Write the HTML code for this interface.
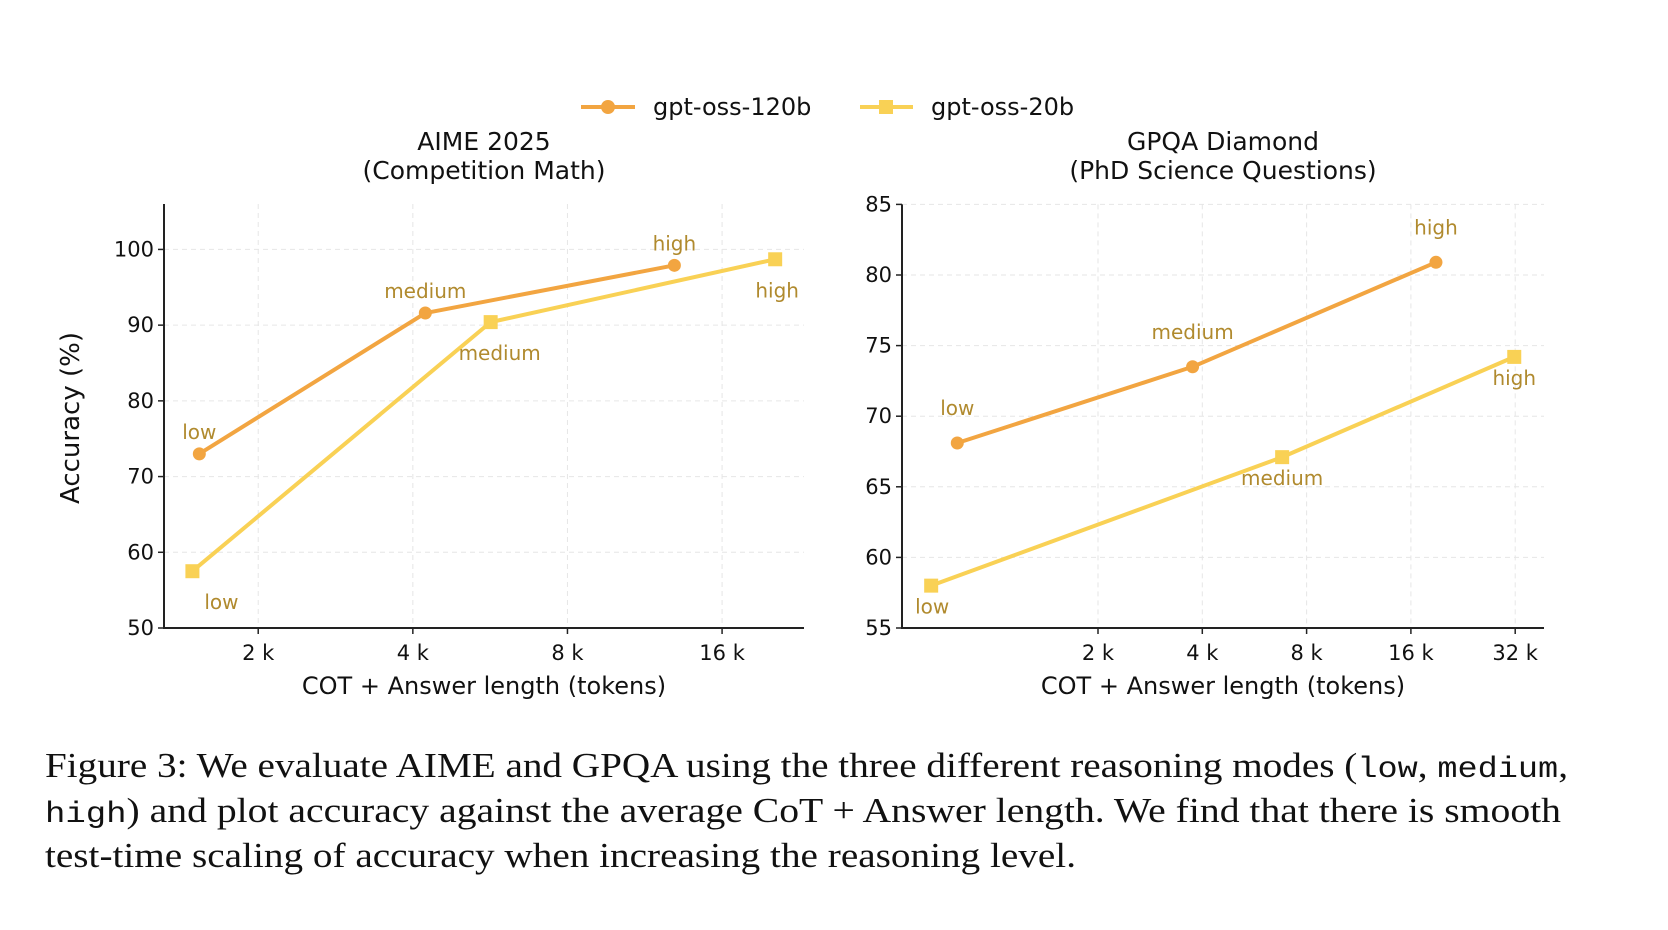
<!DOCTYPE html>
<html><head><meta charset="utf-8">
<style>
html,body{margin:0;padding:0;background:#fff;}
svg{display:block;}
text{font-family:"DejaVu Sans","Liberation Sans",sans-serif;}
.cap{font-family:"Liberation Serif",serif;font-size:35px;fill:#111;}
.mono{font-family:"Liberation Mono",monospace;font-size:30px;}
</style></head>
<body>
<svg id="fig" width="1668" height="930" viewBox="0 0 1668 930" xmlns="http://www.w3.org/2000/svg">
<g id="legend">
  <g>
    <line x1="581" y1="107" x2="635" y2="107" stroke="#F2A541" stroke-width="4"/>
    <circle cx="608" cy="107" r="7" fill="#F2A541"/>
    <text x="653" y="115" font-size="24" fill="#111">gpt-oss-120b</text>
  </g>
  <g>
    <line x1="860" y1="107" x2="913" y2="107" stroke="#F9D155" stroke-width="4"/>
    <rect x="879" y="100" width="14" height="14" fill="#F9D155"/>
    <text x="931" y="115" font-size="24" fill="#111">gpt-oss-20b</text>
  </g>
</g>
<g id="left"></g>
<g id="right"></g>
<g>
  <text class="cap" x="45" y="777" textLength="1523" lengthAdjust="spacingAndGlyphs">Figure 3: We evaluate AIME and GPQA using the three different reasoning modes (<tspan class="mono">low</tspan>, <tspan class="mono">medium</tspan>,</text>
  <text class="cap" x="45" y="822" textLength="1516" lengthAdjust="spacingAndGlyphs"><tspan class="mono">high</tspan>) and plot accuracy against the average CoT + Answer length. We find that there is smooth</text>
  <text class="cap" x="45" y="867" textLength="1031" lengthAdjust="spacingAndGlyphs">test-time scaling of accuracy when increasing the reasoning level.</text>
</g>
</svg>
<script>
// ---- AIME data ----
const aimeLevels = ["low","medium","high"];
const aime120bTokens = [1536, 4230, 12920];
const aime120bAcc = [73.0, 91.6, 97.9];
const aime20bTokens = [1489, 5670, 20300];
const aime20bAcc = [57.5, 90.4, 98.7];
const aimeYTicks = [50,60,70,80,90,100];
const aimeXTicks = [2000,4000,8000,16000];
const aimeXTickLabels = ["2 k","4 k","8 k","16 k"];
// ---- GPQA data ----
const gpqaLevels = ["low","medium","high"];
const gpqa120bTokens = [785, 3750, 18900];
const gpqa120bAcc = [68.1, 73.5, 80.9];
const gpqa20bTokens = [660, 6800, 31800];
const gpqa20bAcc = [58.0, 67.1, 74.2];
const gpqaYTicks = [55,60,65,70,75,80,85];
const gpqaXTicks = [2000,4000,8000,16000,32000];
const gpqaXTickLabels = ["2 k","4 k","8 k","16 k","32 k"];

const NS="http://www.w3.org/2000/svg";
function mk(tag, attrs, parent){const e=document.createElementNS(NS,tag);for(const k in attrs)e.setAttribute(k,attrs[k]);parent.appendChild(e);return e;}

function chart(g, cfg){
  const {L,R,T,B,y0,y1,xmin,xmax}=cfg;
  const X=v=>L+(Math.log2(v)-Math.log2(xmin))/(Math.log2(xmax)-Math.log2(xmin))*(R-L);
  const Y=v=>B-(v-y0)/(y1-y0)*(B-T);
  cfg.yticks.forEach(t=>{
    const gl=mk('line',{x1:L,x2:R,y1:Y(t),y2:Y(t),stroke:'#e6e6e6','stroke-width':1,'stroke-dasharray':'5,4'},g);
    
    
    mk('line',{x1:L-6,x2:L,y1:Y(t),y2:Y(t),stroke:'#222','stroke-width':1.5},g);
    const tl=mk('text',{x:L-10,y:Y(t)+7,'text-anchor':'end','font-size':21,fill:'#111'},g);
    tl.textContent=t;
    
    
  });
  cfg.xticks.forEach((t,i)=>{
    const gl=mk('line',{x1:X(t),x2:X(t),y1:T,y2:B,stroke:'#e6e6e6','stroke-width':1,'stroke-dasharray':'5,4'},g);
    
    
    mk('line',{x1:X(t),x2:X(t),y1:B,y2:B+6,stroke:'#222','stroke-width':1.5},g);
    const tl=mk('text',{x:X(t),y:B+32,'text-anchor':'middle','font-size':21,fill:'#111'},g);
    tl.textContent=cfg.xlabels[i];
    
    
  });
  const ax=mk('path',{d:`M${L},${T} L${L},${B} L${R},${B}`,fill:'none',stroke:'#222','stroke-width':2},g);
  
  
  cfg.series.forEach(s=>{
    const pts=s.x.map((v,i)=>[X(v),Y(s.y[i])]);
    const pl=mk('polyline',{points:pts.map(p=>p.join(',')).join(' '),fill:'none',stroke:s.color,'stroke-width':4,'stroke-linejoin':'round'},g);
    
    
    pts.forEach((p,i)=>{
      let m;
      if(s.marker==='circle') m=mk('circle',{cx:p[0],cy:p[1],r:6.5,fill:s.color},g);
      else m=mk('rect',{x:p[0]-7,y:p[1]-7,width:14,height:14,fill:s.color},g);
      
      
      const t=mk('text',{x:p[0]+s.dx[i],y:p[1]+s.dy+7,'text-anchor':'middle','font-size':20,fill:'#B08A2E'},g);
      t.textContent=cfg.levels[i];
      
      
    });
  });
  const t1=mk('text',{x:cfg.cx,y:150,'text-anchor':'middle','font-size':25,fill:'#111'},g);
  t1.textContent=cfg.title1;
  
  
  const t2=mk('text',{x:cfg.cx,y:179,'text-anchor':'middle','font-size':25,fill:'#111'},g);
  t2.textContent=cfg.title2;
  
  
  const xt=mk('text',{x:cfg.cx,y:694,'text-anchor':'middle','font-size':24,fill:'#111'},g);
  xt.textContent='COT + Answer length (tokens)';
  
  
}

chart(document.getElementById('left'),{L:164,R:804,T:204,B:628,y0:50,y1:106,xmin:1311,xmax:23100,
  yticks:aimeYTicks,xticks:aimeXTicks,xlabels:aimeXTickLabels,levels:aimeLevels,cx:484,
  title1:'AIME 2025',title2:'(Competition Math)',
  series:[
    {name:'gpt-oss-120b',x:aime120bTokens,y:aime120bAcc,color:'#F2A541',marker:'circle',dx:[0,0,0],dy:-22},
    {name:'gpt-oss-20b',x:aime20bTokens,y:aime20bAcc,color:'#F9D155',marker:'square',dx:[29,9,2],dy:31}
  ]});
chart(document.getElementById('right'),{L:902,R:1544,T:204.4,B:628,y0:55,y1:85,xmin:2000*Math.pow(2,-(1098-902)/104.3),xmax:2000*Math.pow(2,(1544-1098)/104.3),
  yticks:gpqaYTicks,xticks:gpqaXTicks,xlabels:gpqaXTickLabels,levels:gpqaLevels,cx:1223,
  title1:'GPQA Diamond',title2:'(PhD Science Questions)',
  series:[
    {name:'gpt-oss-120b',x:gpqa120bTokens,y:gpqa120bAcc,color:'#F2A541',marker:'circle',dx:[0,0,0],dy:-35},
    {name:'gpt-oss-20b',x:gpqa20bTokens,y:gpqa20bAcc,color:'#F9D155',marker:'square',dx:[1,0,0],dy:21}
  ]});
const yl=mk('text',{x:0,y:0,'text-anchor':'middle','font-size':26,fill:'#111',transform:'translate(79,418) rotate(-90)'},document.getElementById('left'));
yl.textContent='Accuracy (%)';


</script>
</body></html>
